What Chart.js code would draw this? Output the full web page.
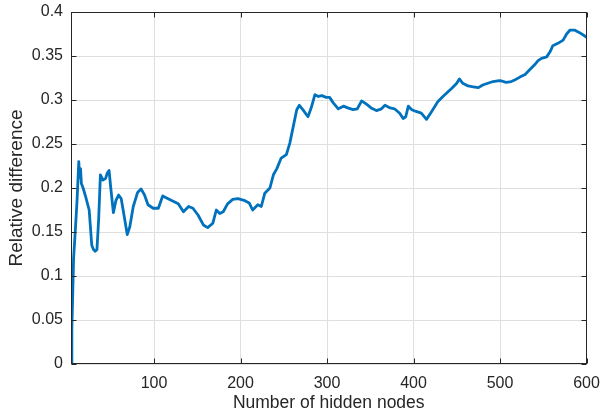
<!DOCTYPE html>
<html>
<head>
<meta charset="utf-8">
<script src="https://cdn.jsdelivr.net/npm/chart.js@4/dist/chart.umd.min.js"></script>
<style>
  html, body { margin: 0; padding: 0; background: #ffffff; }
  #wrap { width: 601px; height: 412px; }
</style>
</head>
<body>
<div id="wrap"><canvas id="chart" width="601" height="412"></canvas></div>
<script>
// Number of hidden nodes (x) and relative difference (y)
const hiddenNodes = [
  4, 5, 6, 7, 9, 11, 13, 14, 15, 16, 18, 21, 25, 28, 30, 32, 34, 36, 38, 41,
  44, 46, 48, 50, 53, 56, 59, 62, 66, 69, 72, 76, 81, 85, 89, 93, 99, 105, 110, 118,
  128, 134, 140, 145, 151, 157, 162, 168, 172, 176, 180, 185, 191, 197, 204, 210, 214, 220, 224, 228,
  234, 238, 242, 247, 253, 257, 261, 265, 268, 272, 278, 282, 286, 290, 294, 299, 303, 307, 313, 319,
  324, 330, 335, 340, 346, 351, 357, 363, 367, 373, 378, 384, 388, 391, 394, 398, 403, 409, 415, 421,
  428, 434, 444, 450, 453, 457, 463, 469, 475, 480, 486, 492, 499, 502, 507, 513, 517, 523, 529, 534,
  540, 544, 548, 554, 558, 561, 567, 573, 577, 581, 586, 592, 598, 600
];
const relativeDifference = [
  0.000, 0.040, 0.080, 0.120, 0.152, 0.186, 0.230, 0.212, 0.222, 0.205, 0.200, 0.190, 0.175, 0.135, 0.130, 0.128, 0.130, 0.165, 0.215, 0.209,
  0.211, 0.217, 0.220, 0.200, 0.172, 0.186, 0.192, 0.188, 0.165, 0.147, 0.156, 0.179, 0.195, 0.199, 0.192, 0.181, 0.177, 0.177, 0.191, 0.187,
  0.182, 0.173, 0.179, 0.177, 0.169, 0.158, 0.155, 0.160, 0.175, 0.171, 0.173, 0.182, 0.187, 0.188, 0.186, 0.183, 0.175, 0.181, 0.179, 0.194,
  0.200, 0.215, 0.222, 0.234, 0.238, 0.251, 0.270, 0.289, 0.294, 0.289, 0.281, 0.292, 0.306, 0.304, 0.305, 0.303, 0.303, 0.297, 0.290, 0.293,
  0.291, 0.289, 0.290, 0.299, 0.295, 0.291, 0.288, 0.290, 0.294, 0.291, 0.290, 0.285, 0.279, 0.281, 0.293, 0.289, 0.287, 0.285, 0.278, 0.287,
  0.298, 0.304, 0.313, 0.319, 0.324, 0.319, 0.316, 0.315, 0.314, 0.317, 0.319, 0.321, 0.322, 0.3216, 0.320, 0.321, 0.3227, 0.326, 0.329, 0.334,
  0.340, 0.3447, 0.3473, 0.349, 0.355, 0.3617, 0.3644, 0.368, 0.375, 0.3795, 0.3795, 0.3765, 0.3727, 0.371
];
const xTickValues = [100, 200, 300, 400, 500, 600];
const yTickValues = [0, 0.05, 0.1, 0.15, 0.2, 0.25, 0.3, 0.35, 0.4];

const AXIS_COLOR = '#262626';
const GRID_COLOR = '#dfdfdf';
const FAMILY = "'Liberation Sans', Arial, Helvetica, sans-serif";
const TICK_FONT = { family: FAMILY, size: 16 };
const XLABEL_FONT = { family: FAMILY, size: 17.5, lineHeight: 1.0 };
const YLABEL_FONT = { family: FAMILY, size: 19 };

// Box around the plot area with short inward tick marks on all four sides
const boxAndTicks = {
  id: 'boxAndTicks',
  afterDraw(chart) {
    const { ctx, chartArea: a, scales } = chart;
    const len = 5;
    const L = Math.round(a.left) + 0.5, R = Math.round(a.right) - 0.5;
    const T = Math.round(a.top) + 0.5, B = Math.round(a.bottom) - 0.5;
    ctx.save();
    ctx.strokeStyle = AXIS_COLOR;
    ctx.lineWidth = 1;
    ctx.beginPath();
    xTickValues.forEach(v => {
      const px = Math.round(scales.x.getPixelForValue(v)) + 0.5;
      ctx.moveTo(px, B); ctx.lineTo(px, B - len);
      ctx.moveTo(px, T); ctx.lineTo(px, T + len);
    });
    yTickValues.forEach(v => {
      const py = Math.round(scales.y.getPixelForValue(v)) + 0.5;
      ctx.moveTo(L, py); ctx.lineTo(L + len, py);
      ctx.moveTo(R, py); ctx.lineTo(R - len, py);
    });
    ctx.stroke();
    ctx.strokeRect(L, T, R - L, B - T);
    ctx.restore();
  }
};

// Fixed axis sizes; label overhang is left to the layout padding
function clearPadding(s) {
  s.paddingLeft = 0; s.paddingRight = 0; s.paddingTop = 0; s.paddingBottom = 0;
}

new Chart(document.getElementById('chart'), {
  type: 'line',
  data: {
    labels: hiddenNodes,
    datasets: [{
      data: hiddenNodes.map((x, i) => ({ x, y: relativeDifference[i] })),
      borderColor: '#0072BD',
      borderWidth: 2.8,
      borderJoinStyle: 'round',
      pointRadius: 0,
      tension: 0,
      fill: false
    }]
  },
  options: {
    responsive: false,
    devicePixelRatio: 1,
    animation: false,
    layout: { padding: { top: 12, right: 14.5, left: 0, bottom: 0 } },
    plugins: { legend: { display: false }, tooltip: { enabled: false } },
    scales: {
      x: {
        type: 'linear',
        min: 4,
        max: 600,
        afterBuildTicks: s => { s.ticks = xTickValues.map(v => ({ value: v })); },
        afterFit: s => { s.height = 48; clearPadding(s); },
        grid: { color: GRID_COLOR, drawTicks: false },
        border: { display: false },
        ticks: {
          font: TICK_FONT, color: AXIS_COLOR, padding: 10,
          maxRotation: 0, autoSkip: false,
          callback: v => String(v)
        },
        title: {
          display: true, text: 'Number of hidden nodes',
          font: XLABEL_FONT, color: AXIS_COLOR, padding: { top: 0, bottom: 0 }
        }
      },
      y: {
        type: 'linear',
        min: 0,
        max: 0.4,
        afterBuildTicks: s => { s.ticks = yTickValues.map(v => ({ value: v })); },
        afterFit: s => { s.width = 71; clearPadding(s); },
        grid: { color: GRID_COLOR, drawTicks: false },
        border: { display: false },
        ticks: {
          font: TICK_FONT, color: AXIS_COLOR, padding: 8,
          callback: v => String(+Number(v).toFixed(2))
        },
        title: {
          display: true, text: 'Relative difference',
          font: YLABEL_FONT, color: AXIS_COLOR, padding: { top: 5, bottom: 0 }
        }
      }
    }
  },
  plugins: [boxAndTicks]
});
</script>
</body>
</html>
